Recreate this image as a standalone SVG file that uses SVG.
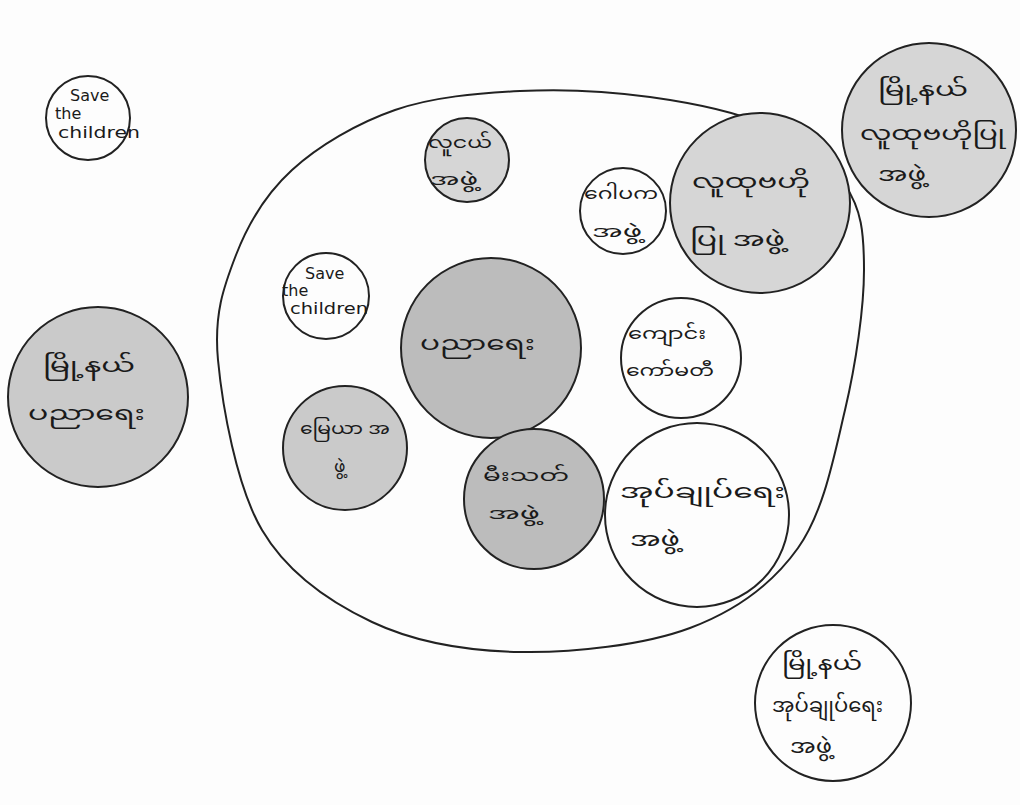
<svg xmlns="http://www.w3.org/2000/svg" width="1020" height="805" viewBox="0 0 1020 805">
<style>
.c{stroke:#222;stroke-width:2;}
.w{fill:#fdfdfd;}
.g1{fill:#d6d6d6;}
.g2{fill:#cacaca;}
.g3{fill:#bcbcbc;}
.my{font-family:"Noto Sans Myanmar","Padauk","Myanmar Text","Noto Sans",sans-serif;font-size:20px;fill:#1a1a1a;}
.sm{font-size:17px;}
.en{font-family:"DejaVu Sans","Liberation Sans",sans-serif;font-size:16px;fill:#1a1a1a;}
</style>
<rect width="1020" height="805" fill="#fdfdfd"/>
<g id="whole-area">
<path class="c" fill="none" d="M218,360 C213.7,314.2 223.7,286.7 236,255 C248.3,223.3 265.5,194.2 292,170 C318.5,145.8 357,123.2 395,110 C433,96.8 477.5,93.2 520,91 C562.5,88.8 609.2,91.3 650,97 C690.8,102.7 732.5,110.3 765,125 C797.5,139.7 828.5,160.8 845,185 C861.5,209.2 864,232.5 864,270 C864,307.5 856,363.7 845,410 C834,456.3 823.8,511.7 798,548 C772.2,584.3 736.3,610.7 690,628 C643.7,645.3 573,653 520,652 C467,651 415,642.3 372,622 C329,601.7 287.7,573.7 262,530 C236.3,486.3 222.3,405.8 218,360 Z"/>
</g>
<g id="connectors"></g>
<g id="save-outer">
<circle cx="88" cy="118" r="42" class="c w"/>
<text class="en" x="70" y="101">Save</text>
<text class="en" x="55" y="119">the</text>
<text class="en" x="58" y="138" textLength="82" lengthAdjust="spacingAndGlyphs">children</text>
</g>
<g id="youth">
<circle cx="467" cy="160" r="42" class="c g1"/>
<text class="my sm" x="428" y="148" textLength="64" lengthAdjust="spacingAndGlyphs">လူငယ်</text>
<text class="my sm" x="430" y="185" textLength="48" lengthAdjust="spacingAndGlyphs">အဖွဲ့</text>
</g>
<g id="pagoda">
<circle cx="623" cy="211" r="43" class="c w"/>
<text class="my sm" x="584" y="199" textLength="74" lengthAdjust="spacingAndGlyphs">ဂေါပက</text>
<text class="my sm" x="592" y="237" textLength="50" lengthAdjust="spacingAndGlyphs">အဖွဲ့</text>
</g>
<g id="community-inner">
<circle cx="760" cy="203" r="90" class="c g1"/>
<text class="my" x="692" y="188" textLength="118" lengthAdjust="spacingAndGlyphs">လူထုဗဟို</text>
<text class="my" x="690" y="246" textLength="95" lengthAdjust="spacingAndGlyphs">ပြု အဖွဲ့</text>
</g>
<g id="community-township">
<circle cx="929" cy="130" r="87" class="c g1"/>
<text class="my" x="878" y="96" textLength="90" lengthAdjust="spacingAndGlyphs">မြို့နယ်</text>
<text class="my" x="860" y="140" textLength="145" lengthAdjust="spacingAndGlyphs">လူထုဗဟိုပြု</text>
<text class="my" x="878" y="181" textLength="48" lengthAdjust="spacingAndGlyphs">အဖွဲ့</text>
</g>
<g id="save-inner">
<circle cx="326" cy="296" r="43" class="c w"/>
<text class="en" x="305" y="279" font-size="18">Save</text>
<text class="en" x="282" y="296">the</text>
<text class="en" x="290" y="314" textLength="78" lengthAdjust="spacingAndGlyphs">children</text>
</g>
<g id="education">
<circle cx="491" cy="348" r="90" class="c g3"/>
<text class="my" x="420" y="350" textLength="115" lengthAdjust="spacingAndGlyphs">ပညာရေး</text>
</g>
<g id="school-committee">
<circle cx="681" cy="358" r="60" class="c w"/>
<text class="my sm" x="628" y="339" textLength="78" lengthAdjust="spacingAndGlyphs">ကျောင်း</text>
<text class="my sm" x="626" y="376" textLength="88" lengthAdjust="spacingAndGlyphs">ကော်မတီ</text>
</g>
<g id="education-township">
<circle cx="98" cy="397" r="90" class="c g2"/>
<text class="my" x="43" y="372" textLength="92" lengthAdjust="spacingAndGlyphs">မြို့နယ်</text>
<text class="my" x="28" y="420" textLength="117" lengthAdjust="spacingAndGlyphs">ပညာရေး</text>
</g>
<g id="land">
<circle cx="345" cy="448" r="62" class="c g2"/>
<text class="my sm" x="300" y="434" textLength="90" lengthAdjust="spacingAndGlyphs">မြေယာ အ</text>
<text class="my sm" x="334" y="472">ဖွဲ့</text>
</g>
<g id="fire-brigade">
<circle cx="534" cy="499" r="70" class="c g3"/>
<text class="my sm" x="483" y="481" textLength="86" lengthAdjust="spacingAndGlyphs">မီးသတ်</text>
<text class="my sm" x="488" y="519" textLength="52" lengthAdjust="spacingAndGlyphs">အဖွဲ့</text>
</g>
<g id="administration">
<circle cx="697" cy="515" r="92" class="c w"/>
<text class="my" x="620" y="498" textLength="165" lengthAdjust="spacingAndGlyphs">အုပ်ချုပ်ရေး</text>
<text class="my" x="630" y="546" textLength="50" lengthAdjust="spacingAndGlyphs">အဖွဲ့</text>
</g>
<g id="administration-township">
<circle cx="833" cy="703" r="78" class="c w"/>
<text class="my" x="782" y="670" textLength="80" lengthAdjust="spacingAndGlyphs">မြို့နယ်</text>
<text class="my" x="772" y="712" textLength="111" lengthAdjust="spacingAndGlyphs">အုပ်ချုပ်ရေး</text>
<text class="my" x="790" y="753" textLength="42" lengthAdjust="spacingAndGlyphs">အဖွဲ့</text>
</g>
</svg>
